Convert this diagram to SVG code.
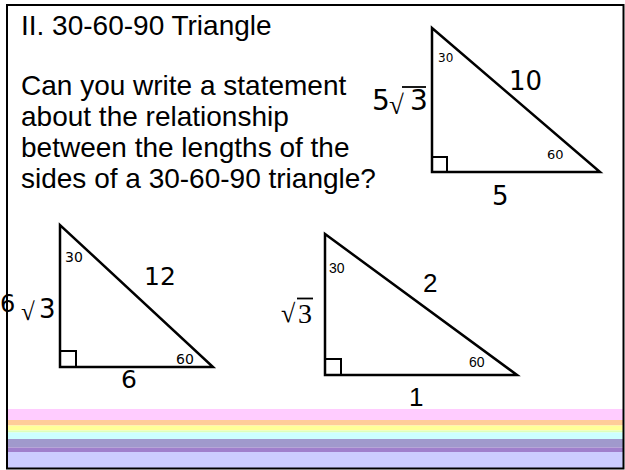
<svg xmlns="http://www.w3.org/2000/svg" width="625" height="470" viewBox="0 0 625 470">
<style>
.body{font-family:"Liberation Sans",Arial,sans-serif;font-size:28px;fill:#000}
.tri{fill:none;stroke:#000;stroke-width:2.5;stroke-linejoin:miter}
.box{fill:none;stroke:#000;stroke-width:2}
.lbl{font-family:"DejaVu Sans",sans-serif;fill:#000}
.ar{font-family:"Liberation Sans",Arial,sans-serif;fill:#000}
.rad{font-family:"Liberation Serif","Times New Roman",serif;fill:#000}
.bar{stroke:#000;stroke-width:1.8}
</style>
<rect x="0" y="0" width="625" height="470" fill="#fff"/>
<g id="stripes">
<rect x="7" y="409" width="616" height="11" fill="#FFCCFF"/>
<rect x="7" y="420" width="616" height="5.5" fill="#FFCC99"/>
<rect x="7" y="425.5" width="616" height="5" fill="#FFFF99"/>
<rect x="7" y="430.5" width="616" height="2" fill="#DDFFBB"/>
<rect x="7" y="432.5" width="616" height="6.5" fill="#CCFFFF"/>
<rect x="7" y="439" width="616" height="8.5" fill="#A099CC"/>
<rect x="7" y="447.5" width="616" height="4.5" fill="#A07FCC"/>
<rect x="7" y="452" width="616" height="16" fill="#CCCCFF"/>
</g>
<g id="text">
<text class="body" x="21" y="35">II. 30-60-90 Triangle</text>
<text class="body" x="21" y="95">Can you write a statement</text>
<text class="body" x="21" y="126">about the relationship</text>
<text class="body" x="21" y="157">between the lengths of the</text>
<text class="body" x="21" y="188">sides of a 30-60-90 triangle?</text>
</g>
<g id="triangle1">
<polygon class="tri" points="432,28 432,172 600,172"/>
<rect class="box" x="432" y="157" width="15" height="15"/>
<text class="lbl" x="438" y="62" font-size="12">30</text>
<text class="lbl" x="509" y="90" font-size="26">10</text>
<text class="lbl" x="547" y="159" font-size="13">60</text>
<text class="lbl" x="492" y="205" font-size="26">5</text>
<text class="lbl" x="372" y="110" font-size="28">5</text>
<text class="rad" x="389" y="114" font-size="27">√</text>
<text class="lbl" x="410" y="110" font-size="28">3</text>
<line class="bar" x1="402" y1="87" x2="426" y2="87"/>
</g>
<g id="triangle2">
<polygon class="tri" points="60,225 60,367 213,367"/>
<rect class="box" x="60" y="351" width="16" height="16"/>
<text class="lbl" x="65" y="262" font-size="14">30</text>
<text class="lbl" x="144" y="285" font-size="25">12</text>
<text class="lbl" x="176" y="364" font-size="14">60</text>
<text class="lbl" x="121" y="388" font-size="25">6</text>
<text class="lbl" x="0" y="312" font-size="24">6</text>
<text class="rad" x="21" y="320" font-size="25">√</text>
<text class="lbl" x="39" y="318" font-size="26">3</text>
</g>
<g id="triangle3">
<polygon class="tri" points="325,234 325,375 517,375"/>
<rect class="box" x="325" y="359" width="16" height="16"/>
<text class="ar" x="329" y="273" font-size="14">30</text>
<text class="ar" x="423" y="292" font-size="26">2</text>
<text class="ar" x="469" y="367" font-size="14">60</text>
<text class="ar" x="409" y="406" font-size="26">1</text>
<text class="rad" x="281" y="322" font-size="26">√</text>
<text class="rad" x="298" y="323" font-size="28">3</text>
<line class="bar" x1="297" y1="298.5" x2="313" y2="298.5"/>
</g>
<rect id="frame" x="7" y="5" width="616.5" height="463.5" fill="none" stroke="#000" stroke-width="2"/>
</svg>
